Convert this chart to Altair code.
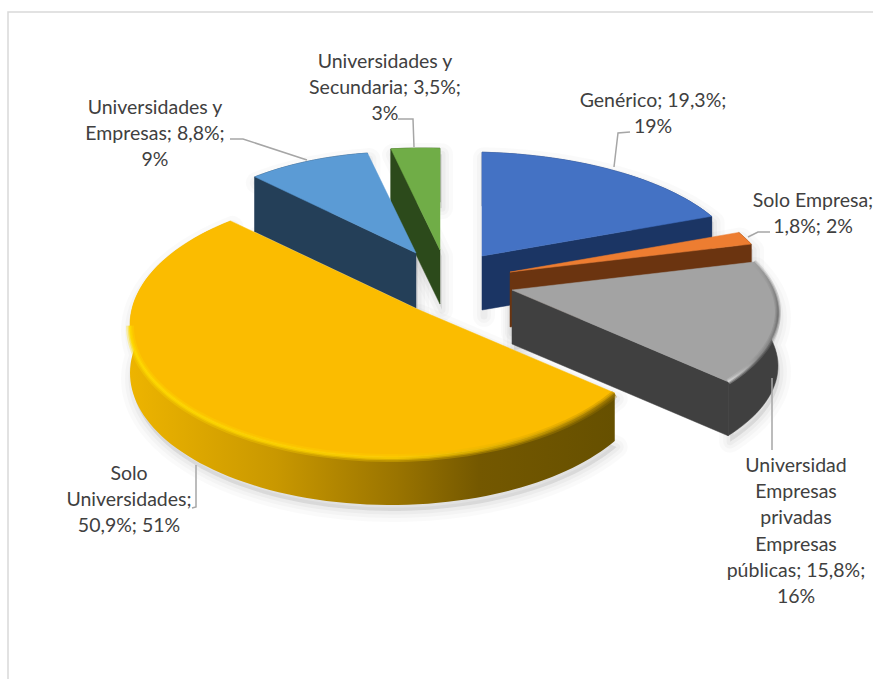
import math
import altair as alt
import pandas as pd

# Share of each category, in drawing order round the pie (clockwise from 12 o'clock)
categories = ["Genérico", "Solo Empresa", "Universidad Empresas privadas Empresas públicas",
              "Solo Universidades", "Universidades y Empresas", "Universidades y Secundaria"]
shares = [19.3, 1.8, 15.8, 50.9, 8.8, 3.5]

top_colors = ["#4472C4", "#ED7D31", "#A3A3A3", "#FBBC00", "#5B9BD5", "#70AD47"]
side_colors = ["#1B3564", "#6B3410", "#404040", "#8C6A00", "#243F58", "#2C4A1B"]

# Exploded pie: tip of each wedge, centre and radii of its rim, wall height
wedge_layout = {
    "Genérico": dict(tip=(482, 256), centre=(466, 273), rx=278, ry=121, depth=54),
    "Solo Empresa": dict(tip=(510, 272), centre=(493, 289), rx=278, ry=121, depth=55),
    "Universidad Empresas privadas Empresas públicas": dict(tip=(512, 290), centre=(495, 312), rx=283, ry=123, depth=54),
    "Solo Universidades": dict(tip=(417, 309), centre=(391, 325), rx=261, ry=132, depth=48),
    "Universidades y Empresas": dict(tip=(416, 253), centre=(399, 270), rx=235, ry=118, depth=55),
    "Universidades y Secundaria": dict(tip=(440, 250), centre=(423, 267), rx=270, ry=119, depth=54),
}
TILT = 0.46

# Data labels, one list of lines per slice, with the centre of the first line
label_lines = [
    ["Genérico; 19,3%;", "19%"],
    ["Solo Empresa;", "1,8%; 2%"],
    ["Universidad", "Empresas", "privadas", "Empresas", "públicas; 15,8%;", "16%"],
    ["Solo", "Universidades;", "50,9%; 51%"],
    ["Universidades y", "Empresas; 8,8%;", "9%"],
    ["Universidades y", "Secundaria; 3,5%;", "3%"],
]
label_anchor = [(653, 101), (813, 201), (796, 466), (129, 474), (155, 108), (385, 62)]
LINE_STEP = 26.2

leaders = [
    [(630, 132), (618, 133), (614, 167)],
    [(770, 232), (758, 232), (748, 237)],
    [(772, 378), (772, 450)],
    [(196, 465), (196, 507), (192, 508)],
    [(230, 139), (243, 139), (307, 160)],
    [(398, 119), (413, 119), (414, 147)],
]


def rim_point(layout, theta):
    """Where the ray at angle theta from the wedge tip meets the wedge's rim ellipse."""
    dx, dy = math.sin(theta), -TILT * math.cos(theta)
    px = layout["tip"][0] - layout["centre"][0]
    py = layout["tip"][1] - layout["centre"][1]
    rx, ry = layout["rx"], layout["ry"]
    a = (dx / rx) ** 2 + (dy / ry) ** 2
    b = 2 * (px * dx / rx ** 2 + py * dy / ry ** 2)
    c = (px / rx) ** 2 + (py / ry) ** 2 - 1
    t = (-b + math.sqrt(b * b - 4 * a * c)) / (2 * a)
    return (layout["tip"][0] + t * dx, layout["tip"][1] + t * dy)


def down(points, amount):
    return [(x, y + amount) for x, y in points]


def polygon(points):
    ring = [list(p) for p in points] + [list(points[0])]
    return {"type": "Feature", "properties": {}, "geometry": {"type": "Polygon", "coordinates": [ring]}}


def polyline(points):
    return {"type": "Feature", "properties": {}, "geometry": {"type": "LineString", "coordinates": [list(p) for p in points]}}


def features(items):
    return alt.Data(values={"type": "FeatureCollection", "features": items}, format=alt.DataFormat(property="features", type="json"))


PROJECTION = dict(type="identity", scale=1, translate=[0, 0])


def shape(items, **mark):
    return alt.Chart(features(items)).mark_geoshape(**mark).project(**PROJECTION)


# Angular extent of each wedge from the shares
total = sum(shares)
wedges = {}
running = 0.0
for name, share in zip(categories, shares):
    start = running / total * 2 * math.pi
    running += share
    end = running / total * 2 * math.pi
    layout = wedge_layout[name]
    steps = max(4, int(share * 2))
    arc = [rim_point(layout, start + (end - start) * i / steps) for i in range(steps + 1)]
    wedges[name] = dict(layout=layout, arc=arc)

layers = []

# Frame of the chart area
layers.append(shape([polyline([(8, 679), (8, 12), (873, 12)])], filled=False, stroke="#D9D9D9", strokeWidth=1.5))

# Soft shadows under the wedges
outlines = []
for name in categories:
    w = wedges[name]
    tip, depth = w["layout"]["tip"], w["layout"]["depth"]
    outlines.append([tip] + w["arc"] + down(w["arc"][::-1], depth) + [(tip[0], tip[1] + depth)])
shifted = [polygon([(x + 2, y + 6) for x, y in ring]) for ring in outlines]
for width, alpha in [(22, 0.02), (14, 0.025), (7, 0.03)]:
    layers.append(shape(shifted, fill="#000000", stroke="#000000", strokeWidth=width,
                        fillOpacity=alpha, strokeOpacity=alpha, strokeJoin="round"))

# Yellow wall shades from left to right
yellow_wall = alt.Gradient(
    gradient="linear", x1=0, x2=1, y1=0, y2=0,
    stops=[alt.GradientStop(offset=0.0, color="#EDB400"),
           alt.GradientStop(offset=0.3, color="#C99800"),
           alt.GradientStop(offset=0.55, color="#9A7400"),
           alt.GradientStop(offset=0.72, color="#745800"),
           alt.GradientStop(offset=1.0, color="#665000")])
yellow_rim = alt.Gradient(
    gradient="linear", x1=1, x2=0, y1=0, y2=0,
    stops=[alt.GradientStop(offset=0.0, color="#9A7400"),
           alt.GradientStop(offset=0.2, color="#D8A800"),
           alt.GradientStop(offset=0.45, color="#FFD000"),
           alt.GradientStop(offset=1.0, color="#FFDC00")])
grey_rim = alt.Gradient(
    gradient="linear", x1=0, x2=0, y1=0, y2=1,
    stops=[alt.GradientStop(offset=0.0, color="#A3A3A3"),
           alt.GradientStop(offset=0.45, color="#6E6E6E"),
           alt.GradientStop(offset=0.8, color="#8C8C8C"),
           alt.GradientStop(offset=1.0, color="#E0E0E0")])

# Back wedges first, so nearer ones overlap them
paint_order = [0, 1, 2, 5, 4, 3]
for index in paint_order:
    name = categories[index]
    w = wedges[name]
    tip, depth, arc = w["layout"]["tip"], w["layout"]["depth"], w["arc"]
    tip_low = (tip[0], tip[1] + depth)

    # Visible straight wall: clockwise edge, except for wedges on the left half
    edge_end = arc[0] if index in (4, 5) else arc[-1]
    wall = [tip, edge_end, (edge_end[0], edge_end[1] + depth), tip_low]
    outer = arc + down(arc[::-1], depth)
    if index != 3:
        layers.append(shape([polygon(outer)], fill=side_colors[index], stroke=side_colors[index], strokeWidth=0.5))
        layers.append(shape([polygon(wall)], fill=side_colors[index], stroke=side_colors[index], strokeWidth=0.5))
    else:
        layers.append(shape([polygon(outer)], fill=yellow_wall))

    layers.append(shape([polygon([tip] + arc)], fill=top_colors[index], stroke=top_colors[index], strokeWidth=0.5))

    # Bevel along the front of the rim, as nested translucent strokes
    if index == 3:
        front = arc[:int(0.72 * len(arc))]
        for width, alpha in [(8, 0.3), (4.5, 0.45), (2, 0.7)]:
            layers.append(shape([polyline(down(front, 1))], filled=False, stroke=yellow_rim,
                                strokeWidth=width, opacity=alpha, strokeCap="butt"))
    if index == 2:
        for width, alpha in [(6, 0.3), (3.5, 0.45), (1.5, 0.6)]:
            layers.append(shape([polyline(arc)], filled=False, stroke=grey_rim,
                                strokeWidth=width, opacity=alpha, strokeCap="butt"))

# Leader lines
layers.append(shape([polyline(p) for p in leaders], filled=False, stroke="#A6A6A6", strokeWidth=1.5))

# Data labels
rows = []
for lines, (cx, cy) in zip(label_lines, label_anchor):
    for i, line in enumerate(lines):
        rows.append({"text": line, "x": cx, "y": cy + i * LINE_STEP})
labels = alt.Chart(pd.DataFrame(rows)).mark_text(
    font="Lato", fontSize=19.5, color="#404040", align="center", baseline="middle"
).encode(
    x=alt.X("x:Q", scale=alt.Scale(domain=[0, 873]), axis=None),
    y=alt.Y("y:Q", scale=alt.Scale(domain=[679, 0]), axis=None),
    text="text:N",
)
layers.append(labels)

chart = alt.layer(*layers).properties(
    width=873, height=679, padding=0, autosize=alt.AutoSizeParams(type="none"), background="white"
).configure_view(stroke=None)

chart.save("out.html", embed_options={"renderer": "svg", "actions": False})
